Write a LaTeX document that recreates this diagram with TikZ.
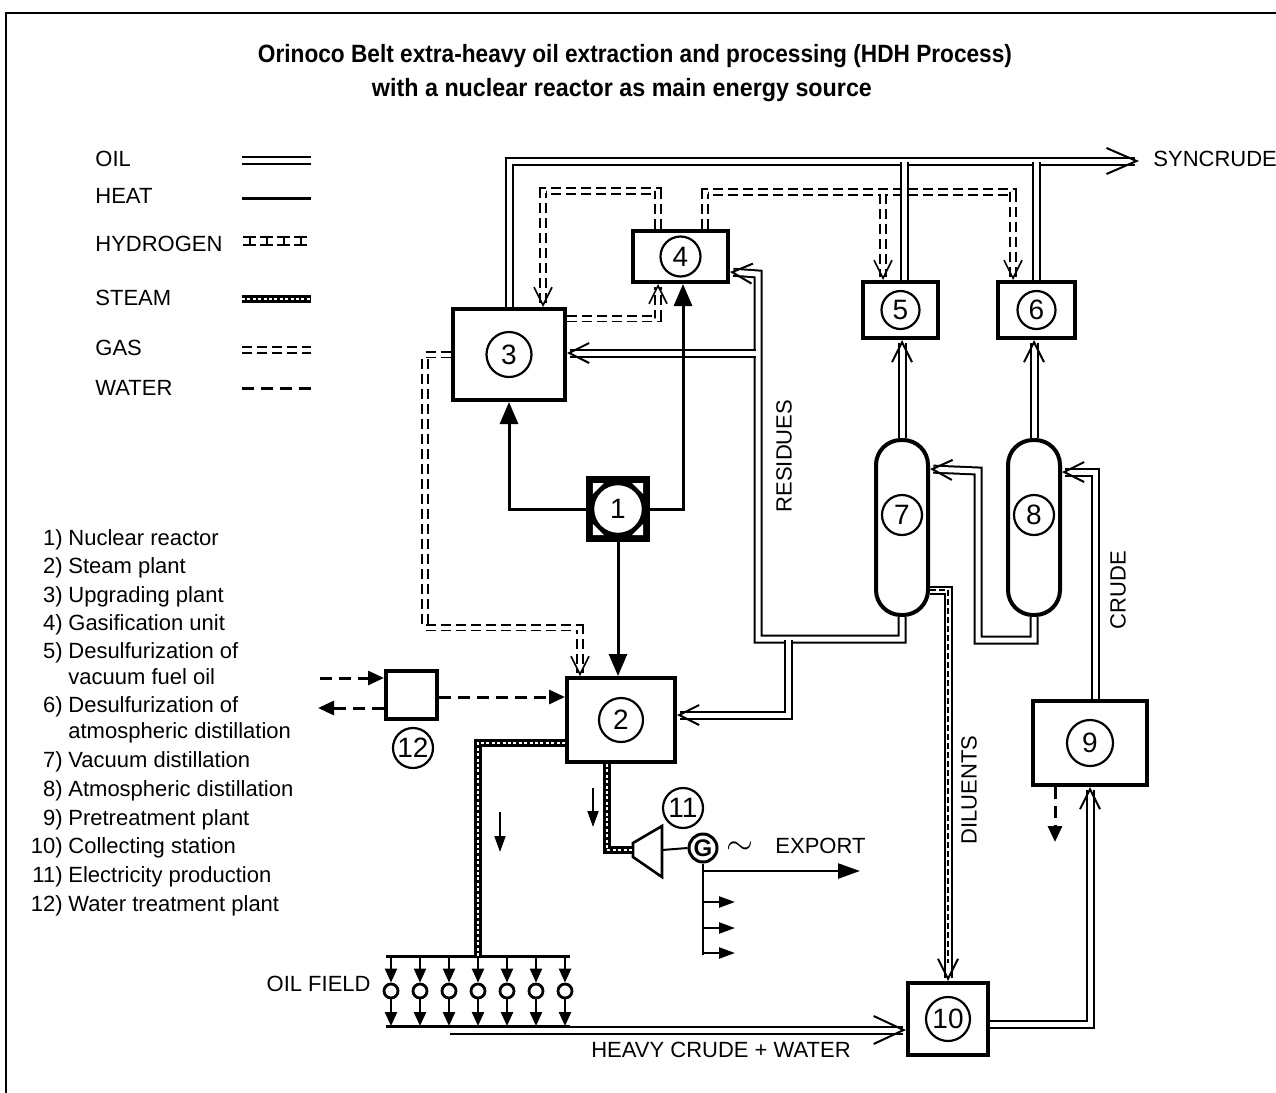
\documentclass[tikz,border=0pt]{standalone}
\usepackage{fontspec}
\usepackage{graphicx}
\setmainfont{Liberation Sans}
\usetikzlibrary{arrows.meta,positioning}
\begin{document}
\begin{tikzpicture}[
    x=0.5pt, y=-0.5pt,
    every node/.style={font=\fontsize{11}{13}\selectfont, inner sep=0pt},
    unit/.style={draw, line width=2pt, fill=white},
    num/.style={circle, draw, line width=1.1pt, fill=white, font=\fontsize{14}{14}\selectfont, minimum size=20pt},
    tower/.style={draw, line width=2pt, fill=white, rounded corners=12.5pt, minimum width=26pt, minimum height=87.5pt},
    heatline/.style={draw, line width=1.5pt},
    heat/.style={heatline, -{Triangle[length=11pt,width=9pt]}},
    oil/.style={draw, double, double distance=2.5pt, line width=1pt},
    oilin/.style={oil, -{Straight Barb[length=10pt,width=10pt]}},
    gas/.style={draw, double, double distance=2pt, line width=0.8pt, dash pattern=on 5pt off 2.5pt},
    gasin/.style={gas, -{Straight Barb[length=9pt,width=9pt]}},
    waterline/.style={draw, line width=1.5pt, dash pattern=on 6pt off 3.5pt},
    water/.style={waterline, -{Triangle[length=8pt,width=7pt]}},
    steam/.style={draw, line width=3.6pt, postaction={draw=white, line width=1.2pt, dash pattern=on 1.5pt off 1.2pt}},
    flowtip/.style={draw, line width=0.9pt, -{Triangle[length=8pt,width=5.5pt]}},
    welltip/.style={draw, line width=1.2pt, -{Triangle[length=7pt,width=6pt]}},
    ]
\useasboundingbox (0,0) rectangle (1276,1093);
% frame and title
\draw[line width=1.3pt] (6,1093) -- (6,13) -- (1276,13);
\node[font=\bfseries\fontsize{12.5}{14}\selectfont] (title) at (635,56)
    {\resizebox{377pt}{\height}{Orinoco Belt extra-heavy oil extraction and processing (HDH Process)}};
\node[font=\bfseries\fontsize{12.5}{14}\selectfont] (subtitle) at (622,90)
    {\resizebox{250pt}{\height}{with a nuclear reactor as main energy source}};

% legend
\node[anchor=mid west] (legoil) at (95,161) {OIL};
\node[anchor=mid west] (legheat) at (95,198) {HEAT};
\node[anchor=mid west] (leghydro) at (95,246) {HYDROGEN};
\node[anchor=mid west] (legsteam) at (95,300) {STEAM};
\node[anchor=mid west] (leggas) at (95,350) {GAS};
\node[anchor=mid west] (legwater) at (95,390) {WATER};
\draw[oil] (242,160) -- (311,160);
\draw[heatline] (242,198) -- (311,198);
\foreach \k in {0,...,3}
    \draw[line width=1pt] (243+17*\k,237) -- ++(13,0) (243+17*\k,245) -- ++(13,0) (249.5+17*\k,237) -- ++(0,8);
\draw[steam] (242,299) -- (311,299);
\draw[gas] (242,350) -- (311,350);
\draw[waterline] (242,388) -- (311,388);

% list of units
\foreach \n/\txt/\yy in {1/Nuclear reactor/540, 2/Steam plant/568, 3/Upgrading plant/597,
        4/Gasification unit/625, 5/Desulfurization of/653, 6/Desulfurization of/707,
        7/Vacuum distillation/762, 8/Atmospheric distillation/791, 9/Pretreatment plant/820,
        10/Collecting station/848, 11/Electricity production/877, 12/Water treatment plant/906}{
    \node[anchor=mid east] (itemnum\n) at (63,\yy) {\n)};
    \node[anchor=mid west] (item\n) at (68,\yy) {\txt};
}
\node[anchor=mid west] (item5b) at (68,679) {vacuum fuel oil};
\node[anchor=mid west] (item6b) at (68,733) {atmospheric distillation};

% units
\node[unit, fill=black, minimum width=30pt, minimum height=31pt] (reactor) at (618,509) {};
\foreach \sx/\sy/\mx/\my in {1/1/-1/-1, 1/-1/-1/1, -1/1/1/-1, -1/-1/1/1}
    \fill[white] ([shift={(\sx*12.6pt,\sy*13pt)}]reactor.center) -- ++(\mx*5.5pt,0pt) -- ++(\sx*5.5pt,\my*5.5pt) -- cycle;
\node[num, minimum size=25pt, line width=1.2pt] (n1) at (reactor) {1};
\node[unit, minimum width=54pt, minimum height=42pt] (steamplant) at (621,720) {};
\node[num, minimum size=22pt] (n2) at (steamplant) {2};
\node[unit, minimum width=56pt, minimum height=45.5pt] (upgrading) at (509,354.5) {};
\node[num, minimum size=22.5pt] (n3) at (upgrading) {3};
\node[unit, minimum width=47.5pt, minimum height=25.5pt] (gasif) at (680.5,256.5) {};
\node[num] (n4) at (gasif) {4};
\node[unit, minimum width=37.5pt, minimum height=28pt] (desulfv) at (900.5,310) {};
\node[num, minimum size=19pt] (n5) at (desulfv) {5};
\node[unit, minimum width=38.5pt, minimum height=28pt] (desulfa) at (1036.5,310) {};
\node[num, minimum size=19pt] (n6) at (desulfa) {6};
\node[tower] (vacdist) at (902,527.5) {};
\node[num] (n7) at (902,515) {7};
\node[tower] (atmdist) at (1034,527.5) {};
\node[num] (n8) at (1034,515) {8};
\node[unit, minimum width=57pt, minimum height=42pt] (pretreat) at (1090,743) {};
\node[num, minimum size=23pt] (n9) at (pretreat) {9};
\node[unit, minimum width=40pt, minimum height=36pt] (collect) at (948,1019) {};
\node[num, minimum size=22pt] (n10) at (collect) {10};
\node[unit, minimum width=25.5pt, minimum height=24pt] (watertreat) at (411.5,695) {};
\node[num] (n12) at (413,748) {12};

% electricity production
\coordinate (turbin) at (633,850);
\coordinate (turbout) at (662,850);
\draw[line width=1.3pt, fill=white] (633,843) -- (662,826) -- (662,877) -- (633,857) -- cycle;
\node[circle, draw, line width=1.5pt, minimum size=14pt, font=\bfseries\fontsize{12}{12}\selectfont] (gen) at (703,848) {G};
\node[num] (n11) at (683,808) {11};
\node (tilde) at (740,848) {\fontsize{16}{16}\selectfont$\sim$};
\node[anchor=mid west] (export) at (775,848) {EXPORT};
\coordinate (exportend) at (860,871);

% oil field
\coordinate (fieldtop) at (478,956);
\coordinate (fieldout) at (450,1030);
\draw[line width=1.5pt] (386,956) -- (570,956);
\draw[line width=1.5pt] (386,1026) -- (570,1026);
\foreach \i in {0,...,6}{
    \node[circle, draw, line width=1.4pt, minimum size=7pt] (well\i) at (391+29*\i,991) {};
    \draw[welltip] (391+29*\i,956) -- (well\i.north);
    \draw[welltip] (well\i.south) -- (391+29*\i,1026);
}
\node[anchor=mid east] (oilfield) at (371,986) {OIL FIELD};
\node (heavycrude) at (721,1050) {HEAVY CRUDE + WATER};

% labels on lines
\node[rotate=90] (residues) at (784,456) {RESIDUES};
\node[rotate=90] (diluents) at (969,790) {DILUENTS};
\node[rotate=90] (crude) at (1118,590) {CRUDE};
\node[anchor=mid west] (syncrude) at (1153,161) {SYNCRUDE};
\coordinate (railend) at (1139,161);

% gas
\draw[gasin] ([xshift=-11.25pt]gasif.north) -- ++(0,-38) -| ([xshift=17pt]upgrading.north);
\draw[gasin] ([yshift=18pt]upgrading.east) -| ([xshift=-11.25pt]gasif.south);
\draw[gasin] ([xshift=12.25pt]gasif.north) -- ++(0,-37) -| ([xshift=-11.75pt]desulfa.north);
\coordinate (gasfork) at (883,194);
\draw[gasin] (gasfork) -- (gasfork |- desulfv.north);
\draw[gasin] (upgrading.west) -- ++(-26,0) -- ++(0,273) -| ([xshift=-20.5pt]steamplant.north);

% water
\coordinate (rawin) at (320,678);
\coordinate (rawout) at (318,708);
\coordinate (drain) at (1055,842);
\draw[water] (rawin) -- (rawin -| watertreat.west);
\draw[water] (watertreat.west |- rawout) -- (rawout);
\draw[water] ([yshift=-1pt]watertreat.east) -- ([yshift=-1pt]watertreat.east -| steamplant.west);
\draw[water] (drain |- pretreat.south) -- (drain);

% oil
\draw[oil, -{Straight Barb[length=15pt,width=13pt]}] (upgrading.north) |- (railend);
\draw[oil] ([xshift=2pt]desulfv.north) -- ++(0,-118.5);
\draw[oil] (desulfa.north) -- ++(0,-118.5);
\draw[oilin] (vacdist.north) -- (vacdist.north |- desulfv.south);
\draw[oilin] (atmdist.north) -- (atmdist.north |- desulfa.south);
\draw[oilin] (vacdist.south) -- ++(0,22) -| ++(-144,-365) -- ([yshift=-7.75pt]gasif.east);
\coordinate (resfork3) at (755.5,353);
\coordinate (resfork2) at (788,639.5);
\draw[oilin] (resfork3) -- (resfork3 -| upgrading.east);
\draw[oilin] (resfork2) |- ([yshift=2.5pt]steamplant.east);
\draw[oilin] (atmdist.south) -- ++(0,23) -| ++(-56,-169) -- ([yshift=29.25pt]vacdist.east);
\draw[oilin] ([xshift=2.5pt]pretreat.north) |- ([yshift=27.75pt]atmdist.east);
\draw[oilin] ([yshift=-31.25pt]vacdist.east) -| (collect.north);
\draw[line width=1pt, dash pattern=on 3pt off 1.5pt, shorten >=9pt] ([yshift=-31.25pt]vacdist.east) -| (collect.north);
\draw[oilin] ([yshift=-2.5pt]collect.east) -| (pretreat.south);
\draw[oil, -{Straight Barb[length=15pt,width=14pt]}] (fieldout) -- (fieldout -| collect.west);

% heat
\draw[heat] (reactor.west) -| (upgrading.south);
\draw[heat] (reactor.east) -| ([xshift=1.25pt]gasif.south);
\draw[heat] (reactor.south) -- (reactor.south |- steamplant.north);

% steam
\draw[steam] ([yshift=-11.5pt]steamplant.west) -| (fieldtop);
\draw[steam] ([xshift=-7pt]steamplant.south) |- (turbin);
\draw[flowtip] (500,812) -- ++(0,40);
\draw[flowtip] (593,788) -- ++(0,39);

% electricity
\draw[line width=1pt] (turbout) -- (gen.west);
\draw[line width=1.2pt] (gen.south) -- ++(0,91);
\draw[line width=1.2pt, -{Triangle[length=11pt,width=7.5pt]}] (gen.south |- exportend) -- (exportend);
\foreach \yy in {902,928,953}
    \draw[flowtip, line width=1.2pt] (703,\yy) -- (735,\yy);
\end{tikzpicture}
\end{document}
